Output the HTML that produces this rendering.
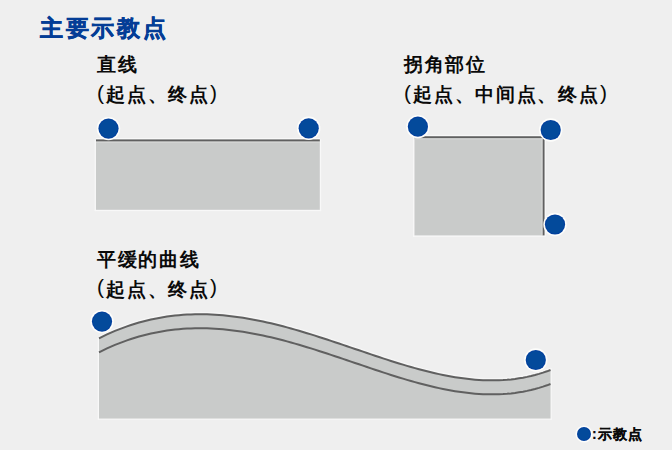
<!DOCTYPE html>
<html><head><meta charset="utf-8">
<style>
html,body{margin:0;padding:0;}
body{width:672px;height:450px;background:#efefef;position:relative;overflow:hidden;font-family:"Liberation Sans",sans-serif;font-weight:bold;color:#0a0a0a;}
.t{position:absolute;white-space:nowrap;}
.title{left:40px;top:10px;font-size:23px;line-height:36px;letter-spacing:2.7px;color:#043d96;-webkit-text-stroke:0.45px #043d96;}
.lab{font-size:19px;line-height:30px;letter-spacing:1.7px;}
.pl{font-weight:normal;margin-right:0.6px;font-size:21px;position:relative;top:-1.5px;}
.pr{font-weight:normal;margin-left:0.3px;font-size:21px;position:relative;top:-1.5px;}
svg{position:absolute;left:0;top:0;}
</style></head><body>
<svg width="672" height="450" viewBox="0 0 672 450">
 <rect x="95.9" y="139.3" width="224" height="70.6" fill="#c9cbca"/>
 <rect x="95.9" y="138" width="224" height="1.2" fill="#f8f8f8"/>
 <rect x="95.9" y="139.5" width="224" height="2.0" fill="#606060"/>
 <rect x="95.9" y="141.6" width="224" height="1.2" fill="#d5d6d5"/>
 <rect x="414.3" y="136.2" width="130.2" height="99.4" fill="#c9cbca"/>
 <rect x="414.3" y="134.9" width="131" height="1.2" fill="#f8f8f8"/>
 <rect x="544.6" y="134.9" width="1.2" height="100.7" fill="#f8f8f8"/>
 <rect x="414.3" y="136.3" width="130.2" height="2.0" fill="#606060"/>
 <rect x="542.5" y="136.3" width="2.0" height="99.3" fill="#606060"/>
 <rect x="541.3" y="138.3" width="1.2" height="97.3" fill="#d5d6d5"/>
 <rect x="414.3" y="138.3" width="128.2" height="1.2" fill="#d5d6d5"/>
 <g fill="#f8f8f8">
  <rect x="94.7" y="139.3" width="1.2" height="71.8"/><rect x="319.9" y="139.3" width="1.2" height="71.8"/><rect x="94.7" y="209.9" width="226.4" height="1.2"/>
  <rect x="413.1" y="136.2" width="1.2" height="100.6"/><rect x="413.1" y="235.6" width="132.7" height="1.2"/>
  <rect x="97.8" y="337" width="1.2" height="82.7"/><rect x="550.5" y="368" width="1.2" height="51.7"/><rect x="97.8" y="418.5" width="453.9" height="1.2"/>
 </g>
 <path d="M99.0 338.31 103.0 336.33 107.0 334.45 111.0 332.66 115.0 330.95 119.0 329.34 123.0 327.82 127.0 326.38 131.0 325.03 135.0 323.76 139.0 322.58 143.0 321.48 147.0 320.47 151.0 319.53 155.0 318.68 159.0 317.91 163.0 317.21 167.0 316.59 171.0 316.05 175.0 315.58 179.0 315.18 183.0 314.86 187.0 314.61 191.0 314.42 195.0 314.31 199.0 314.26 203.0 314.28 207.0 314.37 211.0 314.51 215.0 314.72 219.0 314.99 223.0 315.32 227.0 315.70 231.0 316.15 235.0 316.64 239.0 317.19 243.0 317.80 247.0 318.45 251.0 319.15 255.0 319.90 259.0 320.69 263.0 321.53 267.0 322.41 271.0 323.33 275.0 324.29 279.0 325.29 283.0 326.32 287.0 327.38 291.0 328.48 295.0 329.61 299.0 330.77 303.0 331.96 307.0 333.17 311.0 334.40 315.0 335.65 319.0 336.93 323.0 338.22 327.0 339.53 331.0 340.85 335.0 342.18 339.0 343.52 343.0 344.87 347.0 346.23 351.0 347.59 355.0 348.95 359.0 350.31 363.0 351.67 367.0 353.03 371.0 354.37 375.0 355.71 379.0 357.04 383.0 358.36 387.0 359.66 391.0 360.94 395.0 362.20 399.0 363.44 403.0 364.66 407.0 365.85 411.0 367.01 415.0 368.14 419.0 369.23 423.0 370.29 427.0 371.31 431.0 372.29 435.0 373.23 439.0 374.12 443.0 374.96 447.0 375.75 451.0 376.49 455.0 377.17 459.0 377.80 463.0 378.36 467.0 378.86 471.0 379.29 475.0 379.65 479.0 379.95 483.0 380.17 487.0 380.31 491.0 380.37 495.0 380.35 499.0 380.24 503.0 380.05 507.0 379.77 511.0 379.39 515.0 378.92 519.0 378.34 523.0 377.67 527.0 376.89 531.0 376.00 535.0 375.01 539.0 373.89 543.0 372.67 547.0 371.32 550.5 370.04 V418.5 H99 Z" fill="#c9cbca"/>
 <path d="M99.0 338.31 103.0 336.33 107.0 334.45 111.0 332.66 115.0 330.95 119.0 329.34 123.0 327.82 127.0 326.38 131.0 325.03 135.0 323.76 139.0 322.58 143.0 321.48 147.0 320.47 151.0 319.53 155.0 318.68 159.0 317.91 163.0 317.21 167.0 316.59 171.0 316.05 175.0 315.58 179.0 315.18 183.0 314.86 187.0 314.61 191.0 314.42 195.0 314.31 199.0 314.26 203.0 314.28 207.0 314.37 211.0 314.51 215.0 314.72 219.0 314.99 223.0 315.32 227.0 315.70 231.0 316.15 235.0 316.64 239.0 317.19 243.0 317.80 247.0 318.45 251.0 319.15 255.0 319.90 259.0 320.69 263.0 321.53 267.0 322.41 271.0 323.33 275.0 324.29 279.0 325.29 283.0 326.32 287.0 327.38 291.0 328.48 295.0 329.61 299.0 330.77 303.0 331.96 307.0 333.17 311.0 334.40 315.0 335.65 319.0 336.93 323.0 338.22 327.0 339.53 331.0 340.85 335.0 342.18 339.0 343.52 343.0 344.87 347.0 346.23 351.0 347.59 355.0 348.95 359.0 350.31 363.0 351.67 367.0 353.03 371.0 354.37 375.0 355.71 379.0 357.04 383.0 358.36 387.0 359.66 391.0 360.94 395.0 362.20 399.0 363.44 403.0 364.66 407.0 365.85 411.0 367.01 415.0 368.14 419.0 369.23 423.0 370.29 427.0 371.31 431.0 372.29 435.0 373.23 439.0 374.12 443.0 374.96 447.0 375.75 451.0 376.49 455.0 377.17 459.0 377.80 463.0 378.36 467.0 378.86 471.0 379.29 475.0 379.65 479.0 379.95 483.0 380.17 487.0 380.31 491.0 380.37 495.0 380.35 499.0 380.24 503.0 380.05 507.0 379.77 511.0 379.39 515.0 378.92 519.0 378.34 523.0 377.67 527.0 376.89 531.0 376.00 535.0 375.01 539.0 373.89 543.0 372.67 547.0 371.32 550.5 370.04" transform="translate(0,-1.8)" fill="none" stroke="#f6f6f6" stroke-width="1.2"/>
 <path d="M99.0 338.31 103.0 336.33 107.0 334.45 111.0 332.66 115.0 330.95 119.0 329.34 123.0 327.82 127.0 326.38 131.0 325.03 135.0 323.76 139.0 322.58 143.0 321.48 147.0 320.47 151.0 319.53 155.0 318.68 159.0 317.91 163.0 317.21 167.0 316.59 171.0 316.05 175.0 315.58 179.0 315.18 183.0 314.86 187.0 314.61 191.0 314.42 195.0 314.31 199.0 314.26 203.0 314.28 207.0 314.37 211.0 314.51 215.0 314.72 219.0 314.99 223.0 315.32 227.0 315.70 231.0 316.15 235.0 316.64 239.0 317.19 243.0 317.80 247.0 318.45 251.0 319.15 255.0 319.90 259.0 320.69 263.0 321.53 267.0 322.41 271.0 323.33 275.0 324.29 279.0 325.29 283.0 326.32 287.0 327.38 291.0 328.48 295.0 329.61 299.0 330.77 303.0 331.96 307.0 333.17 311.0 334.40 315.0 335.65 319.0 336.93 323.0 338.22 327.0 339.53 331.0 340.85 335.0 342.18 339.0 343.52 343.0 344.87 347.0 346.23 351.0 347.59 355.0 348.95 359.0 350.31 363.0 351.67 367.0 353.03 371.0 354.37 375.0 355.71 379.0 357.04 383.0 358.36 387.0 359.66 391.0 360.94 395.0 362.20 399.0 363.44 403.0 364.66 407.0 365.85 411.0 367.01 415.0 368.14 419.0 369.23 423.0 370.29 427.0 371.31 431.0 372.29 435.0 373.23 439.0 374.12 443.0 374.96 447.0 375.75 451.0 376.49 455.0 377.17 459.0 377.80 463.0 378.36 467.0 378.86 471.0 379.29 475.0 379.65 479.0 379.95 483.0 380.17 487.0 380.31 491.0 380.37 495.0 380.35 499.0 380.24 503.0 380.05 507.0 379.77 511.0 379.39 515.0 378.92 519.0 378.34 523.0 377.67 527.0 376.89 531.0 376.00 535.0 375.01 539.0 373.89 543.0 372.67 547.0 371.32 550.5 370.04" fill="none" stroke="#606060" stroke-width="2.0"/>
 <path d="M99.0 338.31 103.0 336.33 107.0 334.45 111.0 332.66 115.0 330.95 119.0 329.34 123.0 327.82 127.0 326.38 131.0 325.03 135.0 323.76 139.0 322.58 143.0 321.48 147.0 320.47 151.0 319.53 155.0 318.68 159.0 317.91 163.0 317.21 167.0 316.59 171.0 316.05 175.0 315.58 179.0 315.18 183.0 314.86 187.0 314.61 191.0 314.42 195.0 314.31 199.0 314.26 203.0 314.28 207.0 314.37 211.0 314.51 215.0 314.72 219.0 314.99 223.0 315.32 227.0 315.70 231.0 316.15 235.0 316.64 239.0 317.19 243.0 317.80 247.0 318.45 251.0 319.15 255.0 319.90 259.0 320.69 263.0 321.53 267.0 322.41 271.0 323.33 275.0 324.29 279.0 325.29 283.0 326.32 287.0 327.38 291.0 328.48 295.0 329.61 299.0 330.77 303.0 331.96 307.0 333.17 311.0 334.40 315.0 335.65 319.0 336.93 323.0 338.22 327.0 339.53 331.0 340.85 335.0 342.18 339.0 343.52 343.0 344.87 347.0 346.23 351.0 347.59 355.0 348.95 359.0 350.31 363.0 351.67 367.0 353.03 371.0 354.37 375.0 355.71 379.0 357.04 383.0 358.36 387.0 359.66 391.0 360.94 395.0 362.20 399.0 363.44 403.0 364.66 407.0 365.85 411.0 367.01 415.0 368.14 419.0 369.23 423.0 370.29 427.0 371.31 431.0 372.29 435.0 373.23 439.0 374.12 443.0 374.96 447.0 375.75 451.0 376.49 455.0 377.17 459.0 377.80 463.0 378.36 467.0 378.86 471.0 379.29 475.0 379.65 479.0 379.95 483.0 380.17 487.0 380.31 491.0 380.37 495.0 380.35 499.0 380.24 503.0 380.05 507.0 379.77 511.0 379.39 515.0 378.92 519.0 378.34 523.0 377.67 527.0 376.89 531.0 376.00 535.0 375.01 539.0 373.89 543.0 372.67 547.0 371.32 550.5 370.04" transform="translate(0,14)" fill="none" stroke="#606060" stroke-width="2.0"/>
 <g fill="#fdfdfb"><circle cx="108.5" cy="128.6" r="11.70"/><circle cx="308.7" cy="128.3" r="11.70"/><circle cx="417.9" cy="126.7" r="11.70"/><circle cx="550.7" cy="130" r="11.70"/><circle cx="555" cy="224.5" r="11.70"/><circle cx="102" cy="321.6" r="11.70"/><circle cx="535.8" cy="360" r="11.70"/><circle cx="584" cy="434" r="8.60"/></g><g fill="#03409e"><circle cx="108.5" cy="128.6" r="10.1"/><circle cx="308.7" cy="128.3" r="10.1"/><circle cx="417.9" cy="126.7" r="10.1"/><circle cx="550.7" cy="130" r="10.1"/><circle cx="555" cy="224.5" r="10.1"/><circle cx="102" cy="321.6" r="10.1"/><circle cx="535.8" cy="360" r="10.1"/><circle cx="584" cy="434" r="7"/></g><g fill="#034a9b"><circle cx="108.5" cy="128.6" r="9.00"/><circle cx="308.7" cy="128.3" r="9.00"/><circle cx="417.9" cy="126.7" r="9.00"/><circle cx="550.7" cy="130" r="9.00"/><circle cx="555" cy="224.5" r="9.00"/><circle cx="102" cy="321.6" r="9.00"/><circle cx="535.8" cy="360" r="9.00"/><circle cx="584" cy="434" r="5.90"/></g>
</svg>
<div class="t title">主要示教点</div>
<div class="t lab" style="left:97px;top:49.9px;">直线</div>
<div class="t lab" style="left:97px;top:79px;"><span class="pl">(</span>起点、终点<span class="pr">)</span></div>
<div class="t lab" style="left:404px;top:49.9px;">拐角部位</div>
<div class="t lab" style="left:404px;top:79px;"><span class="pl">(</span>起点、中间点、终点<span class="pr">)</span></div>
<div class="t lab" style="left:97px;top:245px;">平缓的曲线</div>
<div class="t lab" style="left:97px;top:273.5px;"><span class="pl">(</span>起点、终点<span class="pr">)</span></div>
<div class="t" style="left:592px;top:424px;font-size:14px;line-height:20px;letter-spacing:1.0px;-webkit-text-stroke:0.2px #0a0a0a;">:示教点</div>
</body></html>
